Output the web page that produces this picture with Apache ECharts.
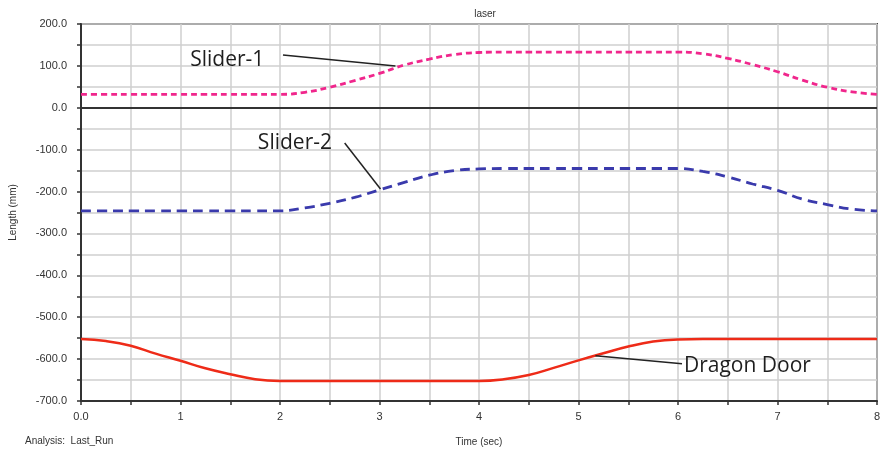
<!DOCTYPE html>
<html>
<head>
<meta charset="utf-8">
<script src="https://cdn.jsdelivr.net/npm/echarts@6/dist/echarts.min.js"></script>
<style>html,body{margin:0;padding:0;background:#fff;}#c{width:882px;height:455px;}</style>
</head>
<body>
<div id="c"></div>
<script>
// Time (sec)
const time = [0,0.25,0.5,0.75,1,1.25,1.5,1.75,2,2.25,2.5,2.75,3,3.25,3.5,3.75,4,4.25,4.5,4.75,5,5.25,5.5,5.75,6,6.25,6.5,6.75,7,7.25,7.5,7.75,8];
// Length (mm)
const slider1 = [32,32,32,32,32,32,32,32,32, 37,49,65,82,102,116,127,132, 133,133,133,133,133,133,133,133, 129,118,103,86,66,49,38,32];
const slider2 = [-246,-246,-246,-246,-246,-246,-246,-246,-246, -239,-228,-214,-196,-178,-161,-150,-146, -145,-145,-145,-145,-145,-145,-145,-145, -152,-165,-182,-197,-218,-231,-242,-246];
const dragon = [-552,-557,-568,-587,-604,-622,-636,-648,-652, -652,-652,-652,-652,-652,-652,-652,-652, -648,-638,-621,-603,-586,-570,-558,-553, -552,-552,-552,-552,-552,-552,-552,-552];
const seriesNames = ['Slider-1','Slider-2','Dragon Door'];
// annotation anchors (data coords): label position, leader start, leader end
const notes = [
  {text:'Slider-1', at:[1.47,114], from:[2.03,126], to:[3.16,100]},
  {text:'Slider-2', at:[2.15,-84], from:[2.65,-84], to:[3.01,-194]},
  {text:'Dragon Door', at:[6.06,-616], from:[5.17,-592], to:[6.04,-611]}
];
const yTicks = [-700,-600,-500,-400,-300,-200,-100,0,100,200];

const pair = (xs, ys) => xs.map((x,i)=>[x, ys[i]]);
const chart = echarts.init(document.getElementById('c'));
const colors = ['#f0268c','#3a3aac','#ee2b18'];
const dashes = [[6,4],[10,6],'solid'];
const vals = [slider1, slider2, dragon];

function noteSeries(n, idx) {
  return {
    type:'line', data:[], silent:true,
    markLine:{silent:true, symbol:['none','none'], label:{show:false},
      lineStyle:{color:'#222', width:1.5, type:'solid'},
      data:[[{coord:n.from},{coord:n.to}]]},
    markPoint:{silent:true, symbol:'circle', symbolSize:0,
      data:[{coord:n.at, value:n.text}],
      label:{show:true, formatter:n.text, position:idx===2?'right':'inside', distance:0,
        fontFamily:'Open Sans', fontSize:21, fontWeight:500, color:'#1e1e1e'}}
  };
}

const series = vals.map((v,i)=>({
  name: seriesNames[i], type:'line', data: pair(time, v),
  showSymbol:false, smooth:0.45, z:3,
  lineStyle:{color:colors[i], width: i===2?2.5:2.8, type:dashes[i]}
}));
series[0].markLine = {silent:true, symbol:['none','none'], label:{show:false},
  lineStyle:{color:'#333', width:2, type:'solid'}, data:[{yAxis:0}]};
notes.forEach((n,i)=>series.push(noteSeries(n,i)));

chart.setOption({
  animation:false,
  backgroundColor:'#fff',
  title:{text:'laser', left:480, top:4, textAlign:'center',
    textStyle:{fontFamily:'Liberation Sans', fontSize:10, fontWeight:'normal', color:'#333'}},
  grid:{left:81, right:5, top:24, bottom:54, containLabel:false, outerBoundsMode:'none',
    show:true, borderColor:'#444', borderWidth:2, backgroundColor:'transparent'},
  xAxis:{type:'value', min:0, max:8, interval:0.5,
    name:'Time (sec)', nameLocation:'middle', nameGap:36,
    nameTextStyle:{fontFamily:'Liberation Sans', fontSize:10, color:'#333'},
    axisLine:{show:true, onZero:false, lineStyle:{color:'#333', width:2}},
    axisTick:{show:true, length:4, lineStyle:{color:'#333', width:1.5}},
    axisLabel:{fontFamily:'Liberation Sans', fontSize:11, color:'#333', margin:10,
      formatter:v=> v===0 ? '0.0' : (Number.isInteger(v) ? String(v) : '')},
    splitLine:{show:true, lineStyle:{color:'#cfcfcf', width:1.5}}},
  yAxis:{type:'value', min:-700, max:200, interval:50,
    name:'Length (mm)', nameLocation:'middle', nameGap:63, nameRotate:90,
    nameTextStyle:{fontFamily:'Liberation Sans', fontSize:10, color:'#333'},
    axisLine:{show:true, lineStyle:{color:'#333', width:2}},
    axisTick:{show:true, length:4, lineStyle:{color:'#333', width:1.5}},
    axisLabel:{fontFamily:'Liberation Sans', fontSize:11, color:'#333', margin:14,
      formatter:v=> yTicks.indexOf(v)>=0 ? v.toFixed(1) : ''},
    splitLine:{show:true, lineStyle:{color:'#cfcfcf', width:1.5}}},
  graphic:[{type:'text', left:25, top:436,
    style:{text:'Analysis:  Last_Run', fontFamily:'Liberation Sans', fontSize:10, fill:'#333'}}],
  series: series
});
</script>
</body>
</html>
